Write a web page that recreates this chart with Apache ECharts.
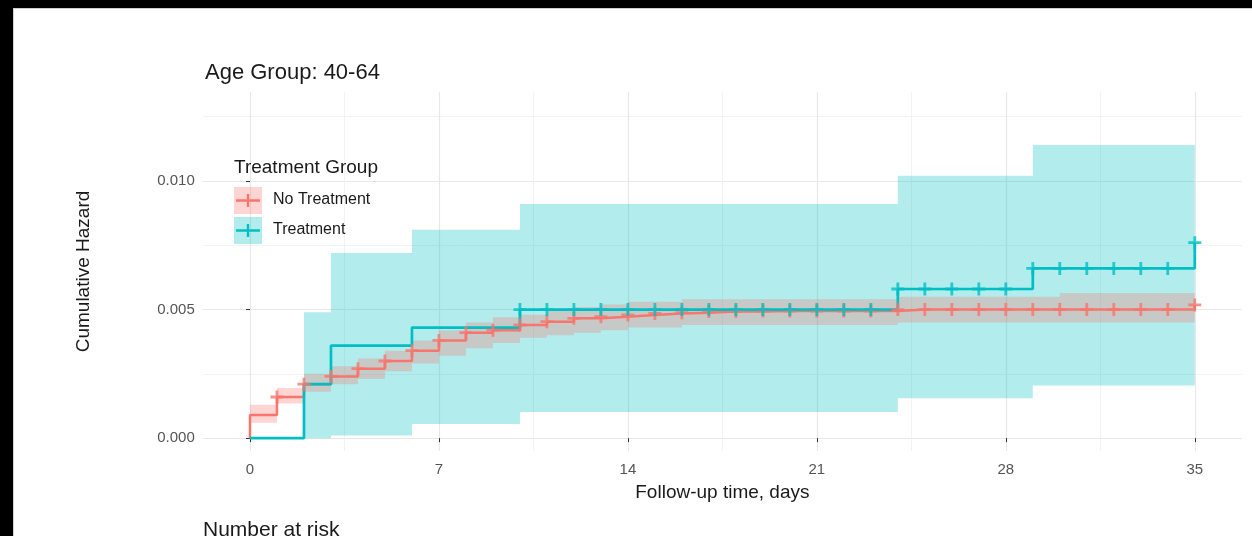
<!DOCTYPE html>
<html>
<head>
<meta charset="utf-8">
<script src="https://cdn.jsdelivr.net/npm/echarts@6/dist/echarts.min.js"></script>
<style>
  html, body { margin: 0; padding: 0; background: #fff; }
  #main { width: 1252px; height: 536px; }
</style>
</head>
<body>
<div id="main"></div>
<script>
// axis breaks (ggplot style: major + minor)
var xTicks = [0, 7, 14, 21, 28, 35];
var xMinor = [3.5, 10.5, 17.5, 24.5, 31.5];
var yTicks = [0, 0.005, 0.010];
var yMinor = [0.0025, 0.0075, 0.0125];

// No Treatment: cumulative hazard by day (value holds until next day)
var noTrtDays = [0, 1, 2, 3, 4, 5, 6, 7, 8, 9, 10, 11, 12, 13, 14, 15, 16, 17,
                 18, 19, 20, 21, 22, 23, 24, 25, 26, 27, 28, 29, 30, 31, 32, 33, 34, 35];
var noTrtHaz = [0.0009, 0.0016, 0.0021, 0.0024, 0.0027, 0.0030, 0.0034, 0.0038, 0.0041, 0.0042,
                0.0044, 0.00453, 0.00466, 0.00472, 0.00479, 0.00485, 0.00488, 0.00492, 0.00492, 0.00494,
                0.00494, 0.00494, 0.00494, 0.00494, 0.0050, 0.0050, 0.0050, 0.0050, 0.0050, 0.0050,
                0.0050, 0.0050, 0.0050, 0.0050, 0.0050, 0.00518];
var noTrtLow = [0.0006, 0.00135, 0.0018, 0.0021, 0.0023, 0.0026, 0.0029, 0.0032, 0.0035, 0.0037,
                0.0039, 0.0040, 0.0041, 0.0042, 0.0043, 0.0043, 0.0044, 0.0044, 0.0044, 0.0044,
                0.0044, 0.0044, 0.0044, 0.0044, 0.0045, 0.0045, 0.0045, 0.0045, 0.0045, 0.0045,
                0.0045, 0.0045, 0.0045, 0.0045, 0.0045, 0.0045];
var noTrtUp = [0.0013, 0.00195, 0.0025, 0.0028, 0.0031, 0.0034, 0.0038, 0.0042, 0.0045, 0.0047,
               0.0048, 0.0050, 0.0051, 0.0052, 0.0053, 0.0053, 0.0054, 0.0054, 0.0054, 0.0054,
               0.0054, 0.0054, 0.0054, 0.0054, 0.0055, 0.0055, 0.0055, 0.0055, 0.0055, 0.0055,
               0.00564, 0.00564, 0.00564, 0.00564, 0.00564, 0.00564];
var noTrtCensor = [1, 2, 3, 4, 5, 6, 7, 8, 9, 10, 11, 12, 13, 14, 15, 16, 17, 18,
                   19, 20, 21, 22, 23, 24, 25, 26, 27, 28, 29, 30, 31, 32, 33, 34, 35];

// Treatment: event times and cumulative hazard
var trtTime = [0, 2, 3, 6, 10, 24, 29, 35];
var trtHaz = [0, 0.0021, 0.0036, 0.0043, 0.0050, 0.0058, 0.0066, 0.0076];
var trtLow = [0, 0, 0.0001, 0.00055, 0.00102, 0.00155, 0.00205, 0.00205];
var trtUp = [0, 0.0049, 0.0072, 0.0081, 0.0091, 0.0102, 0.0114, 0.0114];
var trtCensor = [10, 11, 12, 13, 14, 15, 16, 17, 18, 19, 20, 21, 22, 23,
                 24, 25, 26, 27, 28, 29, 30, 31, 32, 33, 34, 35];

var RED = '#F8766D', TEAL = '#00BFC4';
var FONT = 'Liberation Sans, Arial, sans-serif';
var crossPath = 'path://M-1.3,-6H1.3V-1.3H6V1.3H1.3V6H-1.3V1.3H-6V-1.3H-1.3Z';

function hazAt(times, haz, t) {
    var v = haz[0];
    for (var i = 0; i < times.length; i++) {
        if (times[i] <= t) v = haz[i];
    }
    return v;
}

function ribbon(times, lo, hi, color, z) {
    var segs = [];
    for (var i = 0; i < times.length - 1; i++) {
        segs.push([times[i], times[i + 1], lo[i], hi[i]]);
    }
    return {
        type: 'custom',
        silent: true,
        z: z,
        data: segs,
        encode: {x: [0, 1], y: [2, 3]},
        renderItem: function (params, api) {
            if (params.dataIndex !== 0) return null;
            var top = [], bot = [];
            segs.forEach(function (s) {
                top.push(api.coord([s[0], s[3]]), api.coord([s[1], s[3]]));
                bot.push(api.coord([s[0], s[2]]), api.coord([s[1], s[2]]));
            });
            return {
                type: 'polygon',
                shape: {points: top.concat(bot.reverse())},
                style: {fill: color}
            };
        }
    };
}

var redLine = [[0, 0]];
noTrtDays.forEach(function (d, i) { redLine.push([d, noTrtHaz[i]]); });
var tealLine = trtTime.map(function (t, i) { return [t, trtHaz[i]]; });
var redMarks = noTrtCensor.map(function (t) { return [t, hazAt(noTrtDays, noTrtHaz, t)]; });
var tealMarks = trtCensor.map(function (t) { return [t, hazAt(trtTime, trtHaz, t)]; });

var myChart = echarts.init(document.getElementById('main'));
var option = {
    animation: false,
    backgroundColor: '#fff',
    title: {
        text: 'Age Group: 40-64',
        left: 200,
        top: 57,
        textStyle: {fontSize: 22, fontWeight: 'normal', color: '#1a1a1a', fontFamily: FONT}
    },
    grid: {left: 202.75, right: 10, top: 92, bottom: 85, outerBoundsMode: 'none'},
    xAxis: [{
        type: 'value',
        min: -1.75,
        max: 36.75,
        position: 'bottom',
        name: 'Follow-up time, days',
        nameLocation: 'middle',
        nameGap: 32,
        nameTextStyle: {fontSize: 19, color: '#1a1a1a', fontFamily: FONT},
        axisLine: {show: false},
        axisTick: {show: true, customValues: xTicks, length: 4, lineStyle: {color: '#333', width: 1}},
        axisLabel: {customValues: xTicks, color: '#555', fontSize: 15, margin: 11, fontFamily: FONT},
        splitLine: {show: true, lineStyle: {color: '#e8e8e8', width: 1.2}}
    }, {
        type: 'value',
        min: -1.75,
        max: 36.75,
        position: 'top',
        axisLine: {show: false},
        axisTick: {show: false, customValues: xMinor},
        axisLabel: {show: false, customValues: xMinor},
        splitLine: {show: true, lineStyle: {color: '#f0f0f0', width: 0.8}}
    }],
    yAxis: [{
        type: 'value',
        min: -0.0005,
        max: 0.01346,
        position: 'left',
        name: 'Cumulative Hazard',
        nameLocation: 'middle',
        nameGap: 109,
        nameTextStyle: {fontSize: 19, color: '#1a1a1a', fontFamily: FONT},
        axisLine: {show: false},
        axisTick: {show: true, customValues: yTicks, length: 4, lineStyle: {color: '#333', width: 1}},
        axisLabel: {customValues: yTicks, color: '#555', fontSize: 15, margin: 8, fontFamily: FONT,
            formatter: function (v) { return v.toFixed(3); }},
        splitLine: {show: true, lineStyle: {color: '#e8e8e8', width: 1.2}}
    }, {
        type: 'value',
        min: -0.0005,
        max: 0.01346,
        position: 'right',
        axisLine: {show: false},
        axisTick: {show: false, customValues: yMinor},
        axisLabel: {show: false, customValues: yMinor},
        splitLine: {show: true, lineStyle: {color: '#f0f0f0', width: 0.8}}
    }],
    series: [
        ribbon(trtTime, trtLow, trtUp, 'rgba(0,191,196,0.3)', 2),
        ribbon(noTrtDays, noTrtLow, noTrtUp, 'rgba(248,118,109,0.3)', 3),
        {
            name: 'No Treatment',
            type: 'line',
            step: 'end',
            data: redLine,
            symbol: 'none',
            lineStyle: {color: RED, width: 2.5},
            z: 4
        },
        {
            name: 'Treatment',
            type: 'line',
            step: 'end',
            data: tealLine,
            symbol: 'none',
            lineStyle: {color: TEAL, width: 2.7},
            z: 5
        },
        {
            type: 'scatter',
            data: redMarks,
            symbol: crossPath,
            symbolSize: 13,
            itemStyle: {color: RED},
            z: 6
        },
        {
            type: 'scatter',
            data: tealMarks,
            symbol: crossPath,
            symbolSize: 13,
            itemStyle: {color: TEAL},
            z: 7
        }
    ],
    graphic: [
        // picture frame
        {type: 'rect', shape: {x: 0, y: 0, width: 1252, height: 8}, style: {fill: '#000'}, z: 100},
        {type: 'rect', shape: {x: 0, y: 0, width: 13, height: 536}, style: {fill: '#000'}, z: 100},
        {type: 'rect', shape: {x: 13, y: 8, width: 1239, height: 1}, style: {fill: '#d0d0d0'}, z: 100},
        {type: 'rect', shape: {x: 13, y: 8, width: 1, height: 528}, style: {fill: '#d0d0d0'}, z: 100},
        // legend
        {type: 'text', left: 234, top: 158, z: 50,
            style: {text: 'Treatment Group', fontSize: 19, fill: '#1a1a1a', fontFamily: FONT}},
        {type: 'rect', shape: {x: 234, y: 187, width: 28, height: 27}, style: {fill: 'rgba(248,118,109,0.3)'}, z: 50},
        {type: 'rect', shape: {x: 234, y: 217, width: 28, height: 27}, style: {fill: 'rgba(0,191,196,0.3)'}, z: 50},
        {type: 'line', shape: {x1: 236, y1: 200.5, x2: 260, y2: 200.5}, style: {stroke: RED, lineWidth: 2.5}, z: 51},
        {type: 'line', shape: {x1: 236, y1: 230.5, x2: 260, y2: 230.5}, style: {stroke: TEAL, lineWidth: 2.5}, z: 51},
        {type: 'line', shape: {x1: 248, y1: 194, x2: 248, y2: 207}, style: {stroke: RED, lineWidth: 2.4}, z: 51},
        {type: 'line', shape: {x1: 248, y1: 224, x2: 248, y2: 237}, style: {stroke: TEAL, lineWidth: 2.4}, z: 51},
        {type: 'text', left: 273, top: 192, z: 50,
            style: {text: 'No Treatment', fontSize: 16, fill: '#1a1a1a', fontFamily: FONT}},
        {type: 'text', left: 273, top: 222, z: 50,
            style: {text: 'Treatment', fontSize: 16, fill: '#1a1a1a', fontFamily: FONT}},
        // next panel title, cut off by the picture edge
        {type: 'text', left: 203, top: 520, z: 50,
            style: {text: 'Number at risk', fontSize: 21, fill: '#1a1a1a', fontFamily: FONT}}
    ]
};
myChart.setOption(option);
</script>
</body>
</html>
